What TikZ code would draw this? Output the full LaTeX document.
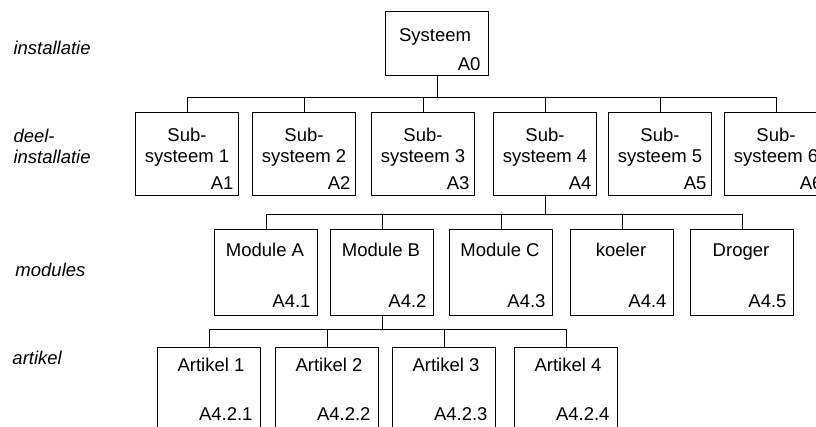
\documentclass[tikz,border=0pt]{standalone}
\usepackage{fontspec}
\setmainfont{Liberation Sans}
\begin{document}
\begin{tikzpicture}[x=1pt,y=-1pt,line width=1pt,
  box/.style={draw,line width=1pt,rectangle,inner sep=0pt,anchor=north west,minimum width=103pt},
  txt/.style={inner sep=0pt,font=\fontsize{18.5}{22}\selectfont},
  ctxt/.style={txt,anchor=base},
  rtxt/.style={txt,anchor=base east},
  lvl/.style={inner sep=0pt,font=\fontsize{18.5}{22}\selectfont\itshape,anchor=base west},
  conn/.style={draw,line width=1pt}]
\useasboundingbox (0,0) rectangle (816,427);
\clip (0,0) rectangle (816,427);
% level labels
\node[lvl] (l1) at (13,55) {installatie};
\node[lvl] (l2a) at (13,143) {deel-};
\node[lvl] (l2b) at (13,164) {installatie};
\node[lvl] (l3) at (15,277) {modules};
\node[lvl] (l4) at (12,364) {artikel};
% top box
\node[box,minimum height=64pt] (s0) at (385,11) {};
\node[ctxt] (s0t) at (435,42) {Systeem};
\node[rtxt] (s0c) at ([xshift=-8pt]s0.east |- 0,71) {A0};
% level 2
\foreach \i/\x in {1/135,2/252,3/371,4/493,5/608,6/724}{
  \node[box,minimum height=83pt] (s\i) at (\x,112) {};
  \node[ctxt] (s\i a) at (s\i.center |- 0,141.5) {Sub-};
  \node[ctxt] (s\i b) at (s\i.center |- 0,163) {systeem \i};
  \node[rtxt] (s\i c) at ([xshift=-5pt]s\i.east |- 0,189.5) {A\i};
}
\coordinate (bus1) at (0,98);
\draw[conn] (s0.south) -- (s0.south |- bus1);
\draw[conn] (s1.north) -- (s1.north |- bus1) -- (s6.north |- bus1) -- (s6.north);
\foreach \i in {2,...,5}{\draw[conn] (s\i.north) -- (s\i.north |- bus1);}
% level 3
\foreach \i/\x/\t in {1/214/Module A,2/330/Module B,3/449/Module C,4/570/koeler,5/690/Droger}{
  \node[box,minimum height=86pt] (m\i) at (\x,229) {};
  \node[ctxt] (m\i a) at ([xshift=-1pt]m\i.center |- 0,256.7) {\t};
  \node[rtxt] (m\i c) at ([xshift=-7pt]m\i.east |- 0,308) {A4.\i};
}
\coordinate (bus2) at (0,214.5);
\draw[conn] (s4.south) -- (s4.south |- bus2);
\draw[conn] (m1.north) -- (m1.north |- bus2) -- (m5.north |- bus2) -- (m5.north);
\foreach \i in {2,...,4}{\draw[conn] (m\i.north) -- (m\i.north |- bus2);}
% level 4
\foreach \i/\x in {1/157,2/275,3/392,4/514}{
  \node[box,minimum height=100pt] (a\i) at (\x,346.7) {};
  \node[ctxt] (a\i a) at ([xshift=2pt]a\i.center |- 0,371.7) {Artikel \i};
  \node[rtxt] (a\i c) at ([xshift=-8pt]a\i.east |- 0,420) {A4.2.\i};
}
\coordinate (bus3) at (0,330);
\draw[conn] (m2.south) -- (m2.south |- bus3);
\draw[conn] (a1.north) -- (a1.north |- bus3) -- (a4.north |- bus3) -- (a4.north);
\foreach \i in {2,3}{\draw[conn] (a\i.north) -- (a\i.north |- bus3);}
\end{tikzpicture}
\end{document}
